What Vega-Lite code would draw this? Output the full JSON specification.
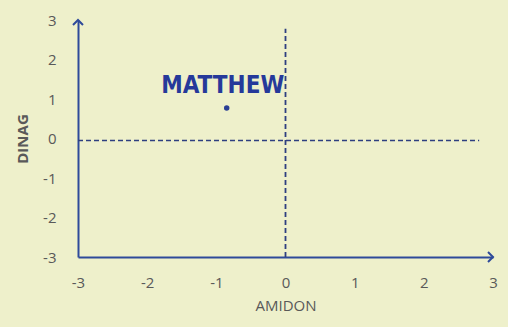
{
  "$schema": "https://vega.github.io/schema/vega-lite/v6.json",
  "autosize": "none",
  "width": 415,
  "height": 237,
  "padding": {"left": 78, "top": 20, "right": 15, "bottom": 70},
  "background": "#eef0cb",
  "config": {
    "view": {"stroke": null},
    "axis": {"labelOverlap": false, "labelBound": false, "labelFlush": false, "grid": false, "ticks": false,
      "domainColor": "#2e4a9a", "domainWidth": 2, "labelFont": "Open Sans", "labelFontSize": 15,
      "labelColor": "#595959", "titleFont": "Open Sans", "titleFontSize": 15, "titleColor": "#595959"},
    "axisX": {"labelPadding": 18, "titleFontWeight": "normal", "titlePadding": 8},
    "axisY": {"labelPadding": 22, "titleFontWeight": "bold", "titlePadding": 12}
  },
  "datasets": {
    "pts": [{"name": "MATTHEW", "amidon": -0.85, "dinag": 0.77}],
    "hline": [{"from": -3, "to": 2.8, "at": -0.05}],
    "vline": [{"from": -3, "to": 2.78, "at": 0}],
    "arrows": [{"ax": 3, "ay": -3, "dir": 0}, {"ax": -3, "ay": 3, "dir": -90}]
  },
  "layer": [
    {
      "data": {"name": "hline"},
      "mark": {"type": "rule", "color": "#2e3f80", "strokeWidth": 1.5, "strokeDash": [5, 3]},
      "encoding": {
        "x": {"field": "from", "type": "quantitative", "scale": {"domain": [-3, 3], "nice": false},
          "axis": {"title": "AMIDON", "values": [-3, -2, -1, 0, 1, 2, 3], "labelExpr": "'' + datum.value"}},
        "x2": {"field": "to"},
        "y": {"field": "at", "type": "quantitative", "scale": {"domain": [-3, 3], "nice": false},
          "axis": {"title": "DINAG", "values": [-3, -2, -1, 0, 1, 2, 3], "labelExpr": "'' + datum.value"}}
      }
    },
    {
      "data": {"name": "vline"},
      "mark": {"type": "rule", "color": "#2e3f80", "strokeWidth": 1.8, "strokeDash": [5, 3]},
      "encoding": {
        "x": {"field": "at", "type": "quantitative",
          "axis": {"title": "AMIDON", "values": [-3, -2, -1, 0, 1, 2, 3], "labelExpr": "'' + datum.value"}},
        "y": {"field": "from", "type": "quantitative",
          "axis": {"title": "DINAG", "values": [-3, -2, -1, 0, 1, 2, 3], "labelExpr": "'' + datum.value"}},
        "y2": {"field": "to"}
      }
    },
    {
      "data": {"name": "arrows"},
      "mark": {"type": "point", "shape": "M-1,-1L0,0L-1,1", "filled": false, "stroke": "#2e4a9a", "strokeWidth": 2, "size": 100, "opacity": 1},
      "encoding": {
        "x": {"field": "ax", "type": "quantitative",
          "axis": {"title": "AMIDON", "values": [-3, -2, -1, 0, 1, 2, 3], "labelExpr": "'' + datum.value"}},
        "y": {"field": "ay", "type": "quantitative",
          "axis": {"title": "DINAG", "values": [-3, -2, -1, 0, 1, 2, 3], "labelExpr": "'' + datum.value"}},
        "angle": {"field": "dir", "type": "quantitative", "scale": null}
      }
    },
    {
      "data": {"name": "pts"},
      "mark": {"type": "circle", "color": "#2b3f94", "size": 30, "opacity": 1},
      "encoding": {
        "x": {"field": "amidon", "type": "quantitative",
          "axis": {"title": "AMIDON", "values": [-3, -2, -1, 0, 1, 2, 3], "labelExpr": "'' + datum.value"}},
        "y": {"field": "dinag", "type": "quantitative",
          "axis": {"title": "DINAG", "values": [-3, -2, -1, 0, 1, 2, 3], "labelExpr": "'' + datum.value"}}
      }
    },
    {
      "data": {"name": "pts"},
      "mark": {"type": "text", "font": "DejaVu Sans Condensed", "fontWeight": "bold", "fontSize": 24, "color": "#25399a", "dy": -22, "dx": -4},
      "encoding": {
        "x": {"field": "amidon", "type": "quantitative",
          "axis": {"title": "AMIDON", "values": [-3, -2, -1, 0, 1, 2, 3], "labelExpr": "'' + datum.value"}},
        "y": {"field": "dinag", "type": "quantitative",
          "axis": {"title": "DINAG", "values": [-3, -2, -1, 0, 1, 2, 3], "labelExpr": "'' + datum.value"}},
        "text": {"field": "name"}
      }
    }
  ]
}
